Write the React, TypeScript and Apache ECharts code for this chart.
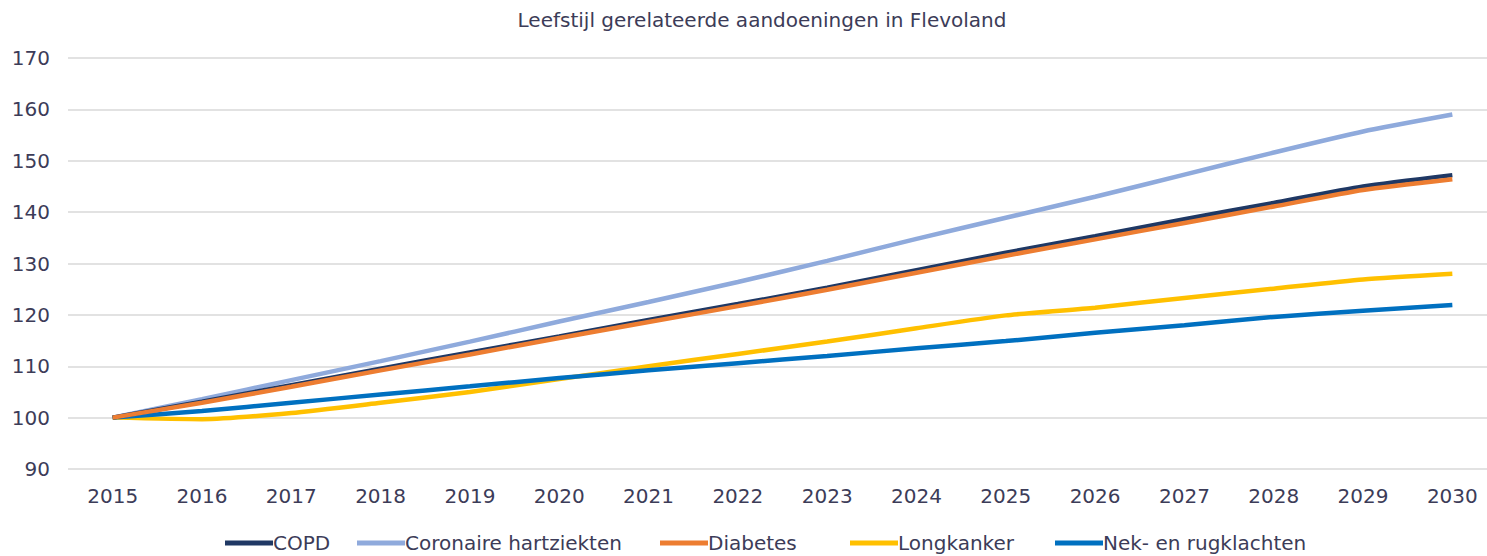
import React, { useEffect, useRef } from "react";
import * as echarts from "echarts";

const years = ["2015","2016","2017","2018","2019","2020","2021","2022","2023","2024","2025","2026","2027","2028","2029","2030"];
const copd = [100, 103.1, 106.3, 109.5, 112.7, 115.8, 119.0, 122.1, 125.3, 128.7, 132.1, 135.3, 138.6, 141.8, 145.0, 147.2];
const coronaire = [100, 103.6, 107.3, 111.0, 114.8, 118.7, 122.5, 126.4, 130.5, 134.8, 138.9, 143.0, 147.3, 151.6, 155.7, 159.0];
const diabetes = [100, 102.9, 106.0, 109.2, 112.3, 115.5, 118.6, 121.7, 124.9, 128.2, 131.5, 134.7, 137.9, 141.1, 144.3, 146.4];
const longkanker = [100, 99.7, 100.9, 102.9, 105.0, 107.5, 110.0, 112.4, 114.8, 117.4, 119.9, 121.4, 123.3, 125.1, 126.9, 128.0];
const nek = [100, 101.3, 102.9, 104.5, 106.1, 107.7, 109.2, 110.6, 112.0, 113.5, 114.9, 116.5, 118.0, 119.6, 120.8, 121.9];
const yTicks = { min: 90, max: 170, interval: 10 };

const seriesDefs = [
  { name: "COPD", data: copd, color: "#1f3864" },
  { name: "Coronaire hartziekten", data: coronaire, color: "#8faadc" },
  { name: "Diabetes", data: diabetes, color: "#ed7d31" },
  { name: "Longkanker", data: longkanker, color: "#ffc000" },
  { name: "Nek- en rugklachten", data: nek, color: "#0070c0" },
];
const legendLeft = [220, 352, 655, 845, 1050];

const FONT = "DejaVu Sans";
const TXT = "#3c3c58";

export default function App() {
  const ref = useRef<HTMLDivElement>(null);
  useEffect(() => {
    if (!ref.current) return;
    const chart = echarts.init(ref.current, null, { renderer: "svg" });
    const order = [1, 3, 4, 0, 2];
    chart.setOption({
      animation: false,
      backgroundColor: "#ffffff",
      title: {
        text: "Leefstijl gerelateerde aandoeningen in Flevoland",
        left: 757,
        textAlign: "center",
        top: 5,
        textStyle: { fontFamily: FONT, fontSize: 20, fontWeight: "normal", color: TXT },
      },
      legend: seriesDefs.map((s, i) => ({
        data: [s.name],
        bottom: -2,
        left: legendLeft[i],
        itemWidth: 48,
        itemHeight: 5,
        icon: "rect",
        textStyle: { fontFamily: FONT, fontSize: 20, color: TXT, padding: [0, 0, 0, -5] },
      })),
      grid: { left: 68, right: 0, top: 58, bottom: 87 },
      xAxis: {
        type: "category",
        data: years,
        boundaryGap: true,
        axisLine: { show: false },
        axisTick: { show: false },
        axisLabel: { fontFamily: FONT, fontSize: 20, color: TXT, margin: 17 },
      },
      yAxis: {
        type: "value",
        min: yTicks.min,
        max: yTicks.max,
        interval: yTicks.interval,
        axisLine: { show: false },
        axisTick: { show: false },
        axisLabel: { fontFamily: FONT, fontSize: 20, color: TXT, margin: 18 },
        splitLine: { lineStyle: { color: "#d9d9d9", width: 1.5 } },
      },
      series: order.map((i) => {
        const s = seriesDefs[i];
        return {
          name: s.name,
          type: "line",
          data: s.data,
          smooth: 0.2,
          showSymbol: false,
          symbol: "none",
          lineStyle: { color: s.color, width: 4.5 },
          itemStyle: { color: s.color },
        };
      }),
    });
    return () => chart.dispose();
  }, []);
  return (
    <div style={{ position: "absolute", left: 0, top: 0, width: 1487, height: 556, overflow: "hidden", background: "#fff" }}>
      <div ref={ref} style={{ width: 1497, height: 556 }} />
    </div>
  );
}
